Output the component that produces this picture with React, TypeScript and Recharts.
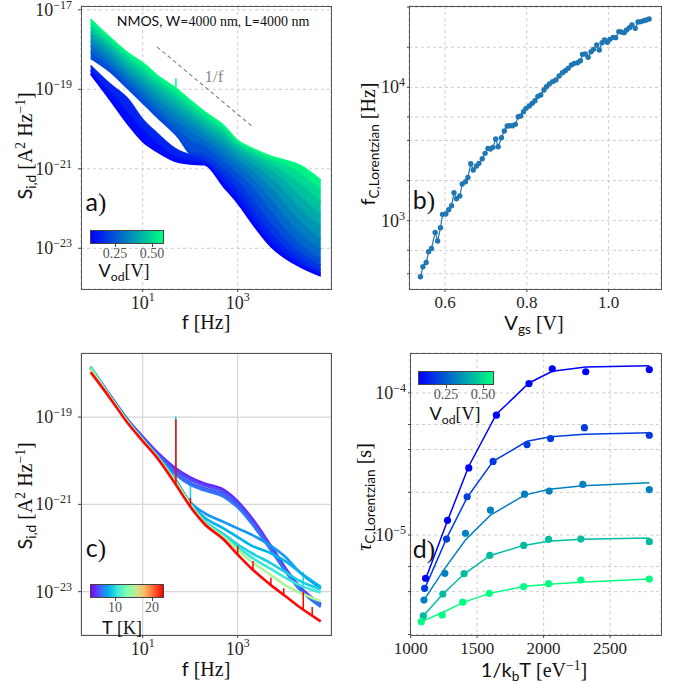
import React from "react";
import { ComposedChart, Line, Area, Scatter, XAxis, YAxis, CartesianGrid } from "recharts";

const SERIF = "'Liberation Serif', 'DejaVu Serif', serif";
const SANS = "Lato, 'DejaVu Sans', sans-serif";
const TXT = "#262626";

// ---- panel a: drain current noise spectra vs Vod (log10 of S, A^2/Hz) ----
const freqs = [0.8, 2, 5, 10, 20, 50, 100, 200, 500, 1000, 2000, 5000, 10000, 20000, 56000];
const vodA = [0.08, 0.125, 0.17, 0.215, 0.26, 0.305, 0.35, 0.395, 0.44, 0.485, 0.53, 0.58];
const logSa = [
  [-18.62, -19.25, -19.9, -20.32, -20.57, -20.82, -20.88, -20.9, -21.45, -21.87, -22.37, -22.96, -23.25, -23.46, -23.7],
  [-18.52, -19.05, -19.58, -20.02, -20.35, -20.68, -20.78, -20.84, -21.3, -21.7, -22.2, -22.8, -23.13, -23.37, -23.63],
  [-18.4, -18.85, -19.25, -19.75, -20.1, -20.5, -20.65, -20.76, -21.15, -21.5, -21.98, -22.6, -22.97, -23.25, -23.55],
  [-18.22, -18.55, -19.0, -19.35, -19.7, -20.15, -20.55, -20.64, -20.98, -21.3, -21.72, -22.35, -22.76, -23.08, -23.42],
  [-18.06, -18.42, -18.86, -19.2, -19.55, -19.98, -20.28, -20.44, -20.8, -21.1, -21.45, -22.05, -22.5, -22.87, -23.25],
  [-17.9, -18.3, -18.74, -19.06, -19.4, -19.8, -20.05, -20.27, -20.63, -20.92, -21.22, -21.75, -22.2, -22.6, -23.02],
  [-17.78, -18.18, -18.62, -18.93, -19.25, -19.62, -19.88, -20.13, -20.47, -20.76, -21.03, -21.47, -21.88, -22.3, -22.75],
  [-17.65, -18.05, -18.5, -18.8, -19.1, -19.47, -19.73, -20.0, -20.33, -20.62, -20.86, -21.22, -21.57, -21.97, -22.45],
  [-17.55, -17.95, -18.38, -18.68, -18.97, -19.33, -19.6, -19.88, -20.2, -20.5, -20.72, -21.02, -21.3, -21.65, -22.13],
  [-17.45, -17.85, -18.27, -18.56, -18.85, -19.2, -19.48, -19.76, -20.08, -20.41, -20.61, -20.87, -21.08, -21.35, -21.82],
  [-17.35, -17.76, -18.17, -18.45, -18.74, -19.08, -19.37, -19.66, -19.98, -20.34, -20.53, -20.76, -20.9, -21.1, -21.53],
  [-17.23, -17.68, -18.09, -18.33, -18.64, -18.97, -19.27, -19.56, -19.9, -20.28, -20.48, -20.68, -20.78, -20.9, -21.28],
];
const oneOverF = [{ f: 20, s: 1.17e-18 }, { f: 2140, s: 1.1e-20 }];
const spikeA = { f: 50, base: -18.97, top: -18.72 };

// ---- panel b: corner frequency vs Vgs ----
const vgsB = [0.540, 0.546, 0.554, 0.560, 0.567, 0.576, 0.582, 0.589, 0.594, 0.602, 0.609, 0.616, 0.622, 0.628, 0.636, 0.642, 0.650, 0.656, 0.663, 0.669, 0.677, 0.683, 0.691, 0.698, 0.705, 0.711, 0.717, 0.724, 0.730, 0.738, 0.745, 0.752, 0.758, 0.765, 0.772, 0.779, 0.785, 0.792, 0.798, 0.806, 0.813, 0.820, 0.827, 0.834, 0.842, 0.848, 0.855, 0.863, 0.871, 0.879, 0.887, 0.894, 0.901, 0.909, 0.916, 0.924, 0.931, 0.936, 0.943, 0.950, 0.957, 0.963, 0.971, 0.977, 0.984, 0.990, 0.997, 1.003, 1.011, 1.017, 1.025, 1.031, 1.038, 1.044, 1.051, 1.057, 1.065, 1.072, 1.079, 1.086, 1.092, 1.099];
const fcB = [380, 452, 487, 586, 620, 817, 704, 886, 1116, 1122, 1209, 1296, 1622, 1462, 1531, 1884, 1961, 2113, 2676, 2399, 2570, 2692, 2917, 3199, 3487, 3449, 3548, 4099, 3589, 4194, 4706, 5129, 5158, 5150, 5278, 6026, 6095, 6571, 6960, 7244, 7586, 7943, 8562, 8760, 9550, 10116, 10593, 11030, 11350, 12162, 12882, 13335, 13884, 14706, 15136, 15311, 15849, 17683, 17783, 16788, 18513, 19275, 20773, 19055, 21627, 22646, 21752, 22909, 23714, 23578, 26152, 26000, 25704, 26915, 28027, 29349, 27702, 30903, 31081, 31623, 31989, 32546];

// ---- panel c: spectra vs temperature (log10 of S) ----
const tempsC = [4.15, 5.05, 5.66, 6.2, 7.2, 8.2, 9.25, 10.5, 15, 23];
const logSc = [
  [-17.85, -18.48, -19.08, -19.45, -19.8, -20.18, -20.38, -20.52, -20.66, -20.93, -21.32, -21.95, -22.45, -22.88, -23.28],
  [-17.87, -18.49, -19.09, -19.47, -19.83, -20.22, -20.43, -20.57, -20.71, -20.98, -21.37, -21.99, -22.48, -22.9, -23.3],
  [-17.88, -18.5, -19.1, -19.49, -19.86, -20.27, -20.5, -20.63, -20.77, -21.03, -21.41, -22.02, -22.5, -22.92, -23.32],
  [-17.89, -18.51, -19.11, -19.51, -19.88, -20.32, -20.55, -20.68, -20.82, -21.07, -21.45, -22.05, -22.53, -22.95, -23.35],
  [-17.88, -18.52, -19.12, -19.52, -19.88, -20.45, -20.95, -21.2, -21.4, -21.55, -21.7, -21.95, -22.2, -22.55, -22.92],
  [-17.88, -18.52, -19.12, -19.52, -19.89, -20.47, -20.98, -21.3, -21.55, -21.75, -21.95, -22.12, -22.3, -22.55, -22.89],
  [-17.87, -18.51, -19.12, -19.52, -19.89, -20.48, -21.0, -21.38, -21.68, -21.92, -22.12, -22.35, -22.55, -22.75, -22.95],
  [-17.86, -18.51, -19.12, -19.52, -19.9, -20.49, -21.0, -21.4, -21.72, -21.98, -22.22, -22.48, -22.68, -22.85, -23.02],
  [-17.9, -18.52, -19.13, -19.53, -19.91, -20.5, -21.0, -21.42, -21.75, -22.05, -22.32, -22.62, -22.85, -23.02, -23.22],
  [-17.97, -18.55, -19.16, -19.55, -19.93, -20.55, -21.05, -21.45, -21.8, -22.15, -22.48, -22.85, -23.1, -23.35, -23.68],
];
const redSpikeF = [50, 101, 1000, 2100, 5000, 9300, 24000, 37000];
const redSpikeBase = [-20.55, -21.05, -22.15, -22.5, -22.85, -23.08, -23.4, -23.55];
const redSpikeTop = [-19.05, -20.85, -21.95, -22.3, -22.68, -22.92, -23.0, -23.35];
const cyanSpikeF = [49.5, 101, 24000];
const cyanSpikeBase = [-20.5, -21.0, -22.9];
const cyanSpikeTop = [-18.98, -20.4, -22.55];

// ---- panel d: time constant vs 1/kT ----
const vodD = [0.08, 0.2, 0.33, 0.45, 0.58];
const invkT = [
  [1112, 1277, 1437, 1645, 1890, 2065, 2317, 2795],
  [1105, 1270, 1425, 1620, 1875, 2052, 2307, 2795],
  [1100, 1257, 1412, 1600, 1857, 2042, 2295, 2795],
  [1095, 1242, 1402, 1595, 1850, 2037, 2280, 2795],
  [1080, 1237, 1392, 1592, 1850, 2037, 2280, 2795],
];
const tauMeas = [
  [4.97e-6, 1.27e-5, 2.97e-5, 6.97e-5, 1.164e-4, 1.48e-4, 1.41e-4, 1.46e-4],
  [4.22e-6, 9.37e-6, 1.86e-5, 3.3e-5, 4.33e-5, 4.78e-5, 5.7e-5, 5.04e-5],
  [3.49e-6, 5.38e-6, 1.03e-5, 1.5e-5, 1.94e-5, 2.04e-5, 2.27e-5, 2.09e-5],
  [2.7e-6, 3.85e-6, 5.35e-6, 7.19e-6, 8.46e-6, 9.33e-6, 9.37e-6, 8.98e-6],
  [2.46e-6, 2.74e-6, 3.37e-6, 3.89e-6, 4.34e-6, 4.55e-6, 4.83e-6, 4.91e-6],
];
const tauFit = [
  [4.89e-6, 1.26e-5, 3.05e-5, 7.08e-5, 1.175e-4, 1.42e-4, 1.52e-4, 1.556e-4],
  [4.18e-6, 9.48e-6, 1.84e-5, 3.3e-5, 4.57e-5, 4.91e-5, 5.13e-5, 5.24e-5],
  [3.49e-6, 5.83e-6, 9.23e-6, 1.38e-5, 1.91e-5, 2.1e-5, 2.22e-5, 2.33e-5],
  [2.7e-6, 3.85e-6, 5.32e-6, 7.16e-6, 8.46e-6, 9.04e-6, 9.33e-6, 9.53e-6],
  [2.46e-6, 2.84e-6, 3.35e-6, 3.89e-6, 4.34e-6, 4.5e-6, 4.65e-6, 4.91e-6],
];

// colormaps
const winter = (vod: number) => {
  const t = Math.min(1, Math.max(0, (vod - 0.08) / 0.5));
  return `rgb(0,${Math.round(255 * t)},${Math.round(255 * (1 - 0.5 * t))})`;
};
const rainbow = (T: number) => {
  const x = Math.min(1, Math.max(0, (T - 3.2) / 20));
  const r = Math.min(1, Math.abs(2 * x - 0.5));
  const g = Math.sin(Math.PI * x);
  const b = Math.cos((Math.PI * x) / 2);
  return `rgb(${Math.round(255 * r)},${Math.round(255 * g)},${Math.round(255 * b)})`;
};

const tableA = freqs.map((f, i) => {
  const row: any = { f };
  logSa.forEach((c, k) => (row[`c${k}`] = Math.pow(10, c[i])));
  return row;
});
const tableB = vgsB.map((v, i) => ({ v, fc: fcB[i] }));
const tableC = freqs.map((f, i) => {
  const row: any = { f };
  logSc.forEach((c, k) => (row[`t${k}`] = Math.pow(10, c[i])));
  return row;
});
const spike = (f: number, base: number, top: number) => [
  { f, s: Math.pow(10, base) },
  { f, s: Math.pow(10, top) },
];

const expLabel = (n: number) => (n < 0 ? `\u2212${-n}` : `${n}`);
const isDecade = (v: number) => Math.abs(Math.log10(v) - Math.round(Math.log10(v))) < 1e-6;

const YPowTick = (p: any) => {
  if (!isDecade(p.payload.value)) return <g />;
  const n = Math.round(Math.log10(p.payload.value));
  return (
    <text x={p.x} y={p.y} dy={6} textAnchor="end" fontFamily={SERIF} fontSize={18} fill={TXT}>
      10<tspan dy={-7} fontSize={12}>{expLabel(n)}</tspan>
    </text>
  );
};
const XPowTick = (p: any) => {
  const n = Math.round(Math.log10(p.payload.value));
  return (
    <text x={p.x} y={p.y} dy={14} textAnchor="middle" fontFamily={SERIF} fontSize={18} fill={TXT}>
      10<tspan dy={-8} fontSize={12}>{expLabel(n)}</tspan>
    </text>
  );
};
const XNumTick = (digits: number) => (p: any) => (
  <text x={p.x} y={p.y} dy={13} textAnchor="middle" fontFamily={SERIF} fontSize={17} fill={TXT}>
    {p.payload.value.toFixed(digits)}
  </text>
);

const sub = (t: React.ReactNode) => (
  <span style={{ fontSize: "0.68em", position: "relative", top: "0.32em" }}>{t}</span>
);
const sup = (t: React.ReactNode) => (
  <span style={{ fontSize: "0.68em", position: "relative", top: "-0.5em" }}>{t}</span>
);

const Txt = ({ x, y, size, color = "#111", rotate = false, children }: any) => (
  <div
    style={{
      position: "absolute",
      left: x,
      top: y,
      transform: `translate(-50%, -50%)${rotate ? " rotate(-90deg)" : ""}`,
      fontSize: size,
      lineHeight: 1,
      whiteSpace: "nowrap",
      color,
      fontFamily: SERIF,
    }}
  >
    {children}
  </div>
);
const Sans = ({ children }: any) => <span style={{ fontFamily: SANS }}>{children}</span>;

const Frame = ({ l, t, r, b }: any) => (
  <div
    style={{
      position: "absolute",
      left: l,
      top: t,
      width: r - l + 1,
      height: b - t + 1,
      border: "1px solid #555",
      boxSizing: "border-box",
      pointerEvents: "none",
    }}
  />
);

const ColorBar = ({ l, t, w, h, gradient, ticks, label, labelY }: any) => (
  <>
    <div
      style={{
        position: "absolute",
        left: l,
        top: t,
        width: w,
        height: h,
        background: gradient,
        border: "1px solid #444",
        boxSizing: "border-box",
      }}
    />
    {ticks.map((tk: any) => (
      <React.Fragment key={tk.text}>
        <div style={{ position: "absolute", left: tk.x, top: t + h, width: 1, height: 3, background: "#444" }} />
        <Txt x={tk.x} y={t + h + 10} size={14} color="#555">
          {tk.text}
        </Txt>
      </React.Fragment>
    ))}
    <Txt x={label.x} y={labelY} size={18}>
      {label.node}
    </Txt>
  </>
);

const winterGrad = "linear-gradient(to right, rgb(0,0,255), rgb(0,255,128))";
const rainbowGrad = `linear-gradient(to right, ${[0, 0.125, 0.25, 0.375, 0.5, 0.625, 0.75, 0.875, 1]
  .map((x) => `${rainbow(3.2 + 20 * x)} ${x * 100}%`)
  .join(", ")})`;

// ribbon k fills between curve k-1 and curve k; the gap between the low group (0..2)
// and the main band (3..) stays open below 100 Hz
const ribbonKey = (k: number) => (d: any) =>
  k === 3 && d.f < 100 ? [d[`c${k}`], d[`c${k}`]] : [d[`c${k - 1}`], d[`c${k}`]];

const PanelA = () => (
  <div style={{ position: "absolute", left: 0, top: 0 }}>
    <ComposedChart width={340} height={329} data={tableA} margin={{ top: 6, right: 9, bottom: 0, left: 0 }}>
      <CartesianGrid stroke="#cccccc" strokeDasharray="3 3" />
      <XAxis
        dataKey="f"
        type="number"
        scale="log"
        domain={[Math.pow(10, -0.299), Math.pow(10, 4.964)]}
        allowDataOverflow
        ticks={[10, 1000]}
        tick={XPowTick}
        tickSize={3}
        tickMargin={3}
        height={40}
        axisLine={false}
        tickLine={{ stroke: "#444" }}
      />
      <YAxis
        type="number"
        scale="log"
        domain={[Math.pow(10, -24.024), Math.pow(10, -16.904)]}
        allowDataOverflow
        ticks={[1e-23, 1e-21, 1e-19, 1e-17]}
        tick={YPowTick}
        tickSize={3}
        tickMargin={6}
        width={81}
        axisLine={false}
        tickLine={{ stroke: "#444" }}
      />
      {logSa.flatMap((_, k) => {
        const items = [];
        if (k > 0) {
          items.push(
            <Area
              key={`r${k}`}
              type="monotone"
              dataKey={ribbonKey(k)}
              fill={winter((vodA[k - 1] + vodA[k]) / 2)}
              fillOpacity={1}
              stroke="none"
              isAnimationActive={false}
            />
          );
        }
        items.push(
          <Line
            key={`l${k}`}
            type="monotone"
            dataKey={`c${k}`}
            stroke={winter(vodA[k])}
            strokeWidth={1.4}
            dot={false}
            isAnimationActive={false}
          />
        );
        return items;
      })}
      <Line
        data={spike(spikeA.f, spikeA.base, spikeA.top)}
        dataKey="s"
        stroke={winter(0.58)}
        strokeWidth={1.5}
        dot={false}
        isAnimationActive={false}
      />
      <Line
        data={oneOverF}
        dataKey="s"
        stroke="#8c8c8c"
        strokeDasharray="4 3"
        strokeWidth={1.2}
        dot={false}
        isAnimationActive={false}
      />
    </ComposedChart>
  </div>
);

const PanelB = () => (
  <div style={{ position: "absolute", left: 340, top: 0 }}>
    <ComposedChart width={326} height={329} data={tableB} margin={{ top: 6, right: 5, bottom: 0, left: 0 }}>
      <CartesianGrid stroke="#cccccc" strokeDasharray="3 3" />
      <XAxis
        dataKey="v"
        type="number"
        domain={[0.512, 1.128]}
        allowDataOverflow
        ticks={[0.6, 0.8, 1.0]}
        tick={XNumTick(1)}
        tickSize={3}
        tickMargin={3}
        height={40}
        axisLine={false}
        tickLine={{ stroke: "#444" }}
      />
      <YAxis
        type="number"
        scale="log"
        domain={[Math.pow(10, 2.488), Math.pow(10, 4.61)]}
        allowDataOverflow
        ticks={[400, 500, 600, 700, 800, 900, 1000, 2000, 3000, 4000, 5000, 6000, 7000, 8000, 9000, 10000, 20000, 30000, 40000]}
        tick={YPowTick}
        tickSize={2}
        tickMargin={2}
        width={69}
        axisLine={false}
        tickLine={{ stroke: "#444" }}
      />
      <Line
        type="linear"
        dataKey="fc"
        stroke="#1f77b4"
        strokeWidth={1.2}
        dot={{ r: 2.7, fill: "#1f77b4", stroke: "#1f77b4", strokeWidth: 0 }}
        isAnimationActive={false}
      />
    </ComposedChart>
  </div>
);

const PanelC = () => (
  <div style={{ position: "absolute", left: 0, top: 347 }}>
    <ComposedChart width={336} height={328} data={tableC} margin={{ top: 6, right: 5, bottom: 0, left: 0 }}>
      <CartesianGrid stroke="#d6d6d6" strokeWidth={1.2} />
      <XAxis
        dataKey="f"
        type="number"
        scale="log"
        domain={[Math.pow(10, -0.299), Math.pow(10, 4.964)]}
        allowDataOverflow
        ticks={[10, 1000]}
        tick={XPowTick}
        tickSize={3}
        tickMargin={3}
        height={40}
        axisLine={false}
        tickLine={{ stroke: "#444" }}
      />
      <YAxis
        type="number"
        scale="log"
        domain={[Math.pow(10, -23.993), Math.pow(10, -17.532)]}
        allowDataOverflow
        ticks={[1e-23, 1e-21, 1e-19]}
        tick={YPowTick}
        tickSize={3}
        tickMargin={6}
        width={81}
        axisLine={false}
        tickLine={{ stroke: "#444" }}
      />
      {cyanSpikeF.map((f, i) => (
        <Line
          key={`cs${i}`}
          data={spike(f, cyanSpikeBase[i], cyanSpikeTop[i])}
          dataKey="s"
          stroke={rainbow(9.5)}
          strokeWidth={1.6}
          dot={false}
          isAnimationActive={false}
        />
      ))}
      {logSc.map((_, k) => (
        <Line
          key={`t${k}`}
          type="monotone"
          dataKey={`t${k}`}
          stroke={rainbow(tempsC[k])}
          strokeWidth={2.6}
          dot={false}
          isAnimationActive={false}
        />
      ))}
      {redSpikeF.map((f, i) => (
        <Line
          key={`rs${i}`}
          data={spike(f, redSpikeBase[i], redSpikeTop[i])}
          dataKey="s"
          stroke="rgb(255,0,0)"
          strokeWidth={1.5}
          dot={false}
          isAnimationActive={false}
        />
      ))}
    </ComposedChart>
  </div>
);

const PanelD = () => (
  <div style={{ position: "absolute", left: 340, top: 347 }}>
    <ComposedChart width={326} height={328} margin={{ top: 6, right: 5, bottom: 0, left: 0 }}>
      <CartesianGrid stroke="#cccccc" strokeDasharray="3 3" />
      <XAxis
        dataKey="x"
        type="number"
        domain={[995, 2883]}
        allowDataOverflow
        ticks={[1000, 1500, 2000, 2500]}
        tick={XNumTick(0)}
        tickSize={3}
        tickMargin={3}
        height={40}
        axisLine={false}
        tickLine={{ stroke: "#444" }}
      />
      <YAxis
        type="number"
        scale="log"
        domain={[Math.pow(10, -5.703), Math.pow(10, -3.719)]}
        allowDataOverflow
        ticks={[2e-6, 3e-6, 4e-6, 5e-6, 6e-6, 7e-6, 8e-6, 9e-6, 1e-5, 2e-5, 3e-5, 4e-5, 5e-5, 6e-5, 7e-5, 8e-5, 9e-5, 1e-4]}
        tick={YPowTick}
        tickSize={2}
        tickMargin={2}
        width={70}
        axisLine={false}
        tickLine={{ stroke: "#444" }}
      />
      {vodD.map((vod, k) => (
        <Line
          key={`fit${k}`}
          data={invkT[k].map((x, i) => ({ x, y: tauFit[k][i] }))}
          dataKey="y"
          type="linear"
          stroke={winter(vod)}
          strokeWidth={1.5}
          dot={false}
          isAnimationActive={false}
        />
      ))}
      {vodD.map((vod, k) => (
        <Scatter
          key={`pt${k}`}
          data={invkT[k].map((x, i) => ({ x, y: tauMeas[k][i] }))}
          dataKey="y"
          fill={winter(vod)}
          isAnimationActive={false}
          shape={(p: any) => <circle cx={p.cx} cy={p.cy} r={3.6} fill={winter(vod)} />}
        />
      ))}
    </ComposedChart>
  </div>
);

export default function App() {
  return (
    <div
      style={{
        position: "absolute",
        left: 0,
        top: 0,
        width: 679,
        height: 685,
        overflow: "hidden",
        background: "#fff",
        fontFamily: SERIF,
      }}
    >
      <PanelA />
      <PanelB />
      <PanelC />
      <PanelD />

      <Frame l={81} t={6} r={331} b={289} />
      <Frame l={409} t={6} r={661} b={289} />
      <Frame l={81} t={353} r={331} b={635} />
      <Frame l={410} t={353} r={661} b={635} />

      {/* panel a texts */}
      <Txt x={213} y={21} size={14}>
        <Sans>NMOS, W=</Sans>4000 nm<Sans>, L=</Sans>4000 nm
      </Txt>
      <Txt x={214} y={76} size={17} color="#8a8a8a">
        1/f
      </Txt>
      <Txt x={96} y={202} size={25}>
        <Sans>a</Sans>)
      </Txt>
      <Txt x={24} y={146} size={20} rotate>
        <Sans>S</Sans>
        {sub(<Sans>i,d</Sans>)} [A{sup("2")} Hz{sup("\u22121")}]
      </Txt>
      <Txt x={206} y={321} size={20}>
        <Sans>f</Sans> [Hz]
      </Txt>
      <ColorBar
        l={90}
        t={230}
        w={74}
        h={14}
        gradient={winterGrad}
        ticks={[{ x: 115, text: "0.25" }, { x: 152, text: "0.50" }]}
        label={{ x: 124, node: (<><Sans>V</Sans>{sub(<Sans>od</Sans>)}[V]</>) }}
        labelY={270}
      />

      {/* panel b texts */}
      <Txt x={424} y={200} size={25}>
        <Sans>b</Sans>)
      </Txt>
      <Txt x={367} y={144} size={20} rotate>
        <Sans>f</Sans>
        {sub(<Sans>C,Lorentzian</Sans>)} [Hz]
      </Txt>
      <Txt x={534} y={322} size={20}>
        <Sans>V</Sans>
        {sub(<Sans>gs</Sans>)} [V]
      </Txt>

      {/* panel c texts */}
      <Txt x={96} y={548} size={25}>
        <Sans>c</Sans>)
      </Txt>
      <Txt x={24} y={496} size={20} rotate>
        <Sans>S</Sans>
        {sub(<Sans>i,d</Sans>)} [A{sup("2")} Hz{sup("\u22121")}]
      </Txt>
      <Txt x={206} y={668} size={20}>
        <Sans>f</Sans> [Hz]
      </Txt>
      <ColorBar
        l={90}
        t={584}
        w={74}
        h={14}
        gradient={rainbowGrad}
        ticks={[{ x: 115, text: "10" }, { x: 152, text: "20" }]}
        label={{ x: 122, node: (<><Sans>T</Sans> [K]</>) }}
        labelY={627}
      />

      {/* panel d texts */}
      <Txt x={424} y={549} size={25}>
        <Sans>d</Sans>)
      </Txt>
      <Txt x={364} y={497} size={20} rotate>
        <i>τ</i>
        {sub(<Sans>C,Lorentzian</Sans>)} [s]
      </Txt>
      <Txt x={534} y={669} size={20}>
        <Sans>1/k</Sans>
        {sub(<Sans>b</Sans>)}
        <Sans>T</Sans> [eV{sup("\u22121")}]
      </Txt>
      <ColorBar
        l={418}
        t={371}
        w={76}
        h={14}
        gradient={winterGrad}
        ticks={[{ x: 446, text: "0.25" }, { x: 483, text: "0.50" }]}
        label={{ x: 455, node: (<><Sans>V</Sans>{sub(<Sans>od</Sans>)}[V]</>) }}
        labelY={413}
      />
    </div>
  );
}
